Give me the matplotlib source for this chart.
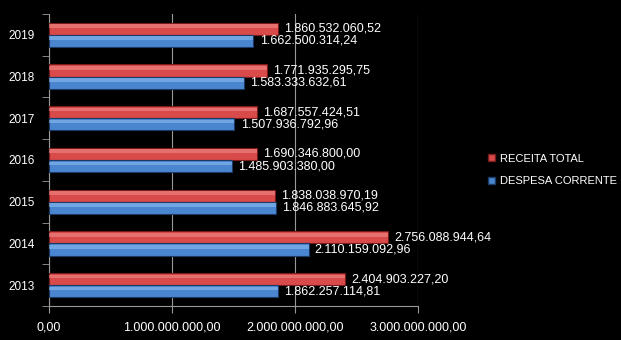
import numpy as np
import matplotlib
matplotlib.use("Agg")
from matplotlib import pyplot as plt
from matplotlib.ticker import FuncFormatter

years = ['2013', '2014', '2015', '2016', '2017', '2018', '2019']
receita = [2404903227.20, 2756088944.64, 1838038970.19, 1690346800.00,
           1687557424.51, 1771935295.75, 1860532060.52]
despesa = [1862257114.81, 2110159092.96, 1846883645.92, 1485903380.00,
           1507936792.96, 1583333632.61, 1662500314.24]
x_ticks = [0, 1e9, 2e9, 3e9]


def br(v):
    s = f'{v:,.2f}'
    return s.replace(',', '#').replace('.', ',').replace('#', '.')


plt.rcParams['font.family'] = ['Liberation Sans', 'DejaVu Sans']

fig = plt.figure(figsize=(6.21, 3.40), dpi=100, facecolor='black')
ax = fig.add_axes([49/621, 1-306/340, 369/621, 292/340], facecolor='black')

y = np.arange(len(years))
h = 0.29
red, red_edge, red_hi = '#d94a4a', '#7a1c1c', '#f08a8a'
blue, blue_edge, blue_hi = '#4a86d0', '#1c3a66', '#8cbcf0'

ax.barh(y + h/2, receita, height=h, color=red, edgecolor=red_edge, linewidth=0.8, zorder=3)
ax.barh(y - h/2, despesa, height=h, color=blue, edgecolor=blue_edge, linewidth=0.8, zorder=3)
# highlight stripe on top part of the bars
ax.barh(y + h/2 + h*0.22, receita, height=h*0.3, color=red_hi, linewidth=0, alpha=0.6, zorder=4)
ax.barh(y - h/2 + h*0.22, despesa, height=h*0.3, color=blue_hi, linewidth=0, alpha=0.6, zorder=4)

for i in range(len(years)):
    ax.text(receita[i] + 0.05e9, y[i] + h/2, br(receita[i]), color='white',
            fontsize=9, va='center', ha='left', zorder=5)
    ax.text(despesa[i] + 0.05e9, y[i] - h/2, br(despesa[i]), color='white',
            fontsize=9, va='center', ha='left', zorder=5)

ax.set_xlim(0, 3e9)
ax.set_ylim(-0.5, len(years) - 0.5)
ax.set_xticks(x_ticks)
ax.xaxis.set_major_formatter(FuncFormatter(lambda v, p: br(v)))
ax.set_yticks(y)
ax.set_yticklabels(years)
ax.set_yticks(np.arange(-0.5, len(years)), minor=True)
ax.tick_params(axis='y', which='major', length=0, colors='white', labelsize=8.5, pad=10)
ax.tick_params(axis='y', which='minor', length=5, color='#999999')
ax.tick_params(axis='x', length=5, color='#999999', colors='white', labelsize=9, pad=6)
ax.xaxis.grid(True, color='#999999', linewidth=0.8, zorder=0)
for side in ['top', 'right']:
    ax.spines[side].set_visible(False)
for side in ['left', 'bottom']:
    ax.spines[side].set_color('#999999')

handles = [plt.Rectangle((0, 0), 1, 1, facecolor=red, edgecolor=red_edge),
           plt.Rectangle((0, 0), 1, 1, facecolor=blue, edgecolor=blue_edge)]
fig.legend(handles, ['RECEITA TOTAL', 'DESPESA CORRENTE'], loc='center left',
           bbox_to_anchor=(478/621, 1-170/340), frameon=False, fontsize=8,
           labelcolor='white', handlelength=0.6, handleheight=0.6,
           handletextpad=0.5, labelspacing=1.15)

plt.savefig('out.png', dpi=100, facecolor='black')
